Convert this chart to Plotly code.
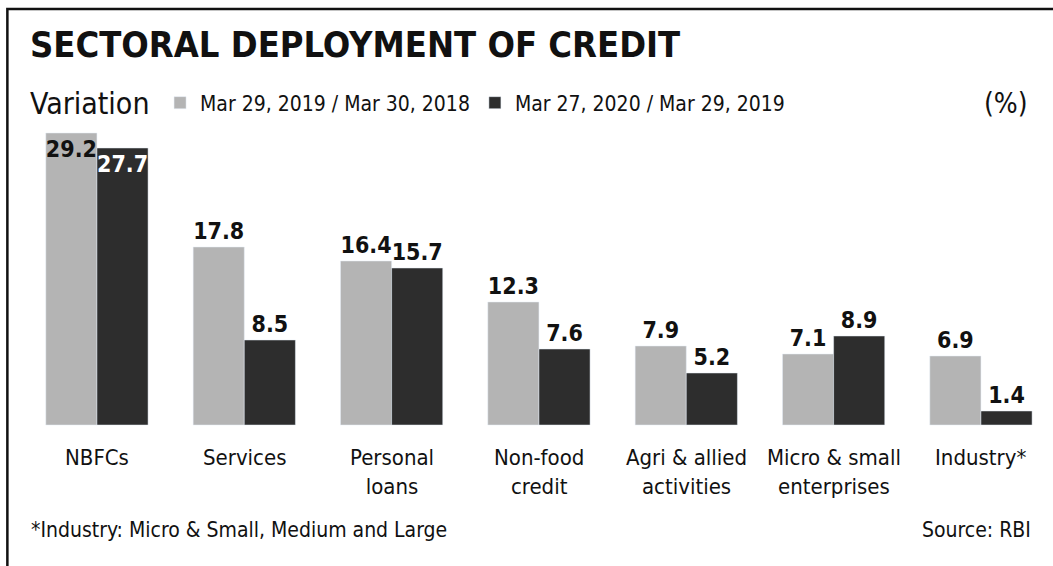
import plotly.graph_objects as go

# Sectoral deployment of bank credit, year-on-year variation (%)
categories = ["NBFCs", "Services", "Personal<br>loans", "Non-food<br>credit",
              "Agri & allied<br>activities", "Micro & small<br>enterprises", "Industry*"]
series_2019 = [29.2, 17.8, 16.4, 12.3, 7.9, 7.1, 6.9]
series_2020 = [27.7, 8.5, 15.7, 7.6, 5.2, 8.9, 1.4]
name_2019 = "Mar 29, 2019 / Mar 30, 2018"
name_2020 = "Mar 27, 2020 / Mar 29, 2019"

LIGHT = "#b4b4b4"
DARK = "#2d2d2d"
INK = "#111111"
COND = "DejaVu Sans Condensed, DejaVu Sans, sans-serif"

x_idx = list(range(len(categories)))

# the tallest bars carry their labels inside the bar top
pos_2019 = ["inside" if v > 25 else "outside" for v in series_2019]
pos_2020 = ["inside" if v > 25 else "outside" for v in series_2020]
col_2020 = ["white" if v > 25 else INK for v in series_2020]

fig = go.Figure()
fig.add_trace(go.Bar(
    x=x_idx, y=series_2019, name=name_2019, marker_color=LIGHT,
    text=[f"<b>{v:.1f}</b>" for v in series_2019], textposition=pos_2019,
    insidetextanchor="end", textangle=0, constraintext="none",
    textfont=dict(family=COND, size=23, color=INK),
    cliponaxis=False,
))
fig.add_trace(go.Bar(
    x=x_idx, y=series_2020, name=name_2020, marker_color=DARK,
    text=[f"<b>{v:.1f}</b>" for v in series_2020], textposition=pos_2020,
    insidetextanchor="end", textangle=0, constraintext="none",
    textfont=dict(family=COND, size=23, color=col_2020),
    cliponaxis=False,
))

fig.update_layout(
    width=1053, height=566,
    margin=dict(l=0, r=0, t=0, b=0),
    paper_bgcolor="white", plot_bgcolor="white",
    barmode="group", bargap=0.306, bargroupgap=0,
    font=dict(family=COND, color=INK),
    showlegend=True,
    legend=dict(
        orientation="h", x=0.152, y=0.818, xanchor="left", yanchor="middle",
        font=dict(size=21, family=COND, color=INK), itemwidth=30,
        bgcolor="rgba(0,0,0,0)",
    ),
    xaxis=dict(
        range=[-0.658, 6.489], showgrid=False, zeroline=False, showline=False,
        tickmode="array", tickvals=x_idx, ticktext=[""] * len(categories),
        fixedrange=True,
    ),
    yaxis=dict(range=[-14.1, 42.5], visible=False, fixedrange=True),
)

# category names below the bars
for i, c in enumerate(categories):
    fig.add_annotation(x=i, y=-1.8, xref="x", yref="y", text=c, showarrow=False,
                       yanchor="top", font=dict(size=22, family=COND, color=INK))

fig.add_annotation(xref="paper", yref="paper", x=0.027, y=0.922,
                   xanchor="left", yanchor="middle", showarrow=False,
                   text="<b>SECTORAL DEPLOYMENT OF CREDIT</b>",
                   font=dict(size=36, family=COND, color=INK))
fig.add_annotation(xref="paper", yref="paper", x=0.027, y=0.818,
                   xanchor="left", yanchor="middle", showarrow=False,
                   text="Variation", font=dict(size=30, family=COND, color=INK))
fig.add_annotation(xref="paper", yref="paper", x=0.978, y=0.818, xanchor="right", yanchor="middle",
                   text="(%)", showarrow=False, font=dict(size=28, family=COND, color=INK))
fig.add_annotation(xref="paper", yref="paper", x=0.028, y=0.064, xanchor="left", yanchor="middle",
                   text="*Industry: Micro & Small, Medium and Large", showarrow=False,
                   font=dict(size=21, family=COND, color=INK))
fig.add_annotation(xref="paper", yref="paper", x=0.981, y=0.064, xanchor="right", yanchor="middle",
                   text="Source: RBI", showarrow=False,
                   font=dict(size=21, family=COND, color=INK))

# frame around the graphic
fig.add_shape(type="rect", xref="paper", yref="paper", x0=0.007, x1=1.01, y0=-0.02, y1=0.984,
              line=dict(color="#111111", width=2.5), fillcolor="rgba(0,0,0,0)")

fig.write_html("out.html")
